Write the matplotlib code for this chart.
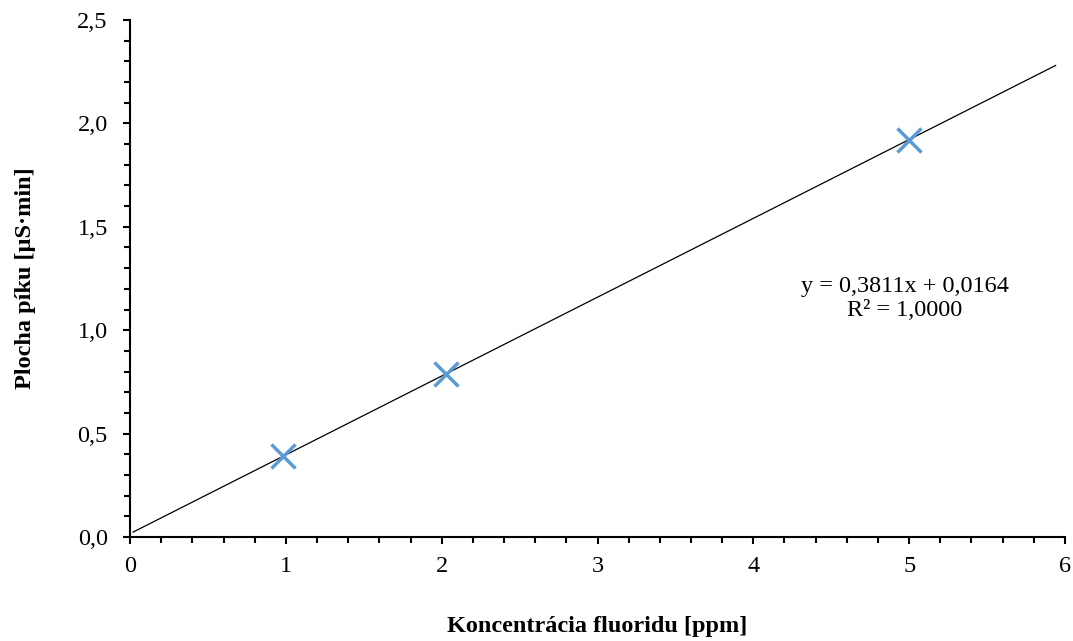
import matplotlib.pyplot as plt
from matplotlib.ticker import MultipleLocator, FuncFormatter
import numpy as np

plt.rcParams['font.family'] = ['Liberation Serif', 'DejaVu Serif']

# data
conc = [0.98, 2.03, 5.0]
area = [0.39, 0.79, 1.92]
slope = 0.3811
intercept = 0.0164
line_x = [0.02, 5.94]

fig = plt.figure(figsize=(10.73, 6.41), dpi=100)
ax = fig.add_axes([0.1212, 0.1622, 0.8713, 0.8066])

lx = np.array(line_x)
ax.plot(lx, slope * lx + intercept, color='black', linewidth=0.9)
ax.plot(conc, area, linestyle='none', marker='x', markersize=17,
        markeredgewidth=2.5, color='#5B9BD5')

ax.set_xlim(0, 6)
ax.set_ylim(0, 2.5)
ax.xaxis.set_major_locator(MultipleLocator(1))
ax.xaxis.set_minor_locator(MultipleLocator(0.2))
ax.yaxis.set_major_locator(MultipleLocator(0.5))
ax.yaxis.set_minor_locator(MultipleLocator(0.1))
ax.yaxis.set_major_formatter(FuncFormatter(lambda v, p: f'{v:.1f}'.replace('.', ',')))
ax.xaxis.set_major_formatter(FuncFormatter(lambda v, p: f'{v:.0f}'))

for s in ['top', 'right']:
    ax.spines[s].set_visible(False)
for s in ['left', 'bottom']:
    ax.spines[s].set_linewidth(1.5)
ax.tick_params(which='major', length=5, width=1.5, labelsize=17.5, direction='out')
ax.tick_params(which='minor', length=4, width=1.5, direction='out')
ax.tick_params(axis='x', pad=9)
ax.tick_params(axis='y', pad=11)

ax.set_xlabel('Koncentrácia fluoridu [ppm]', fontsize=17.5, fontweight='bold', labelpad=28)
ax.set_ylabel('Plocha píku [µS·min]', fontsize=17.5, fontweight='bold', labelpad=30)

ax.text(4.97, 1.155, 'y = 0,3811x + 0,0164\nR² = 1,0000', fontsize=17.5,
        ha='center', va='center', linespacing=1.2)

plt.savefig('out.png', dpi=100)
